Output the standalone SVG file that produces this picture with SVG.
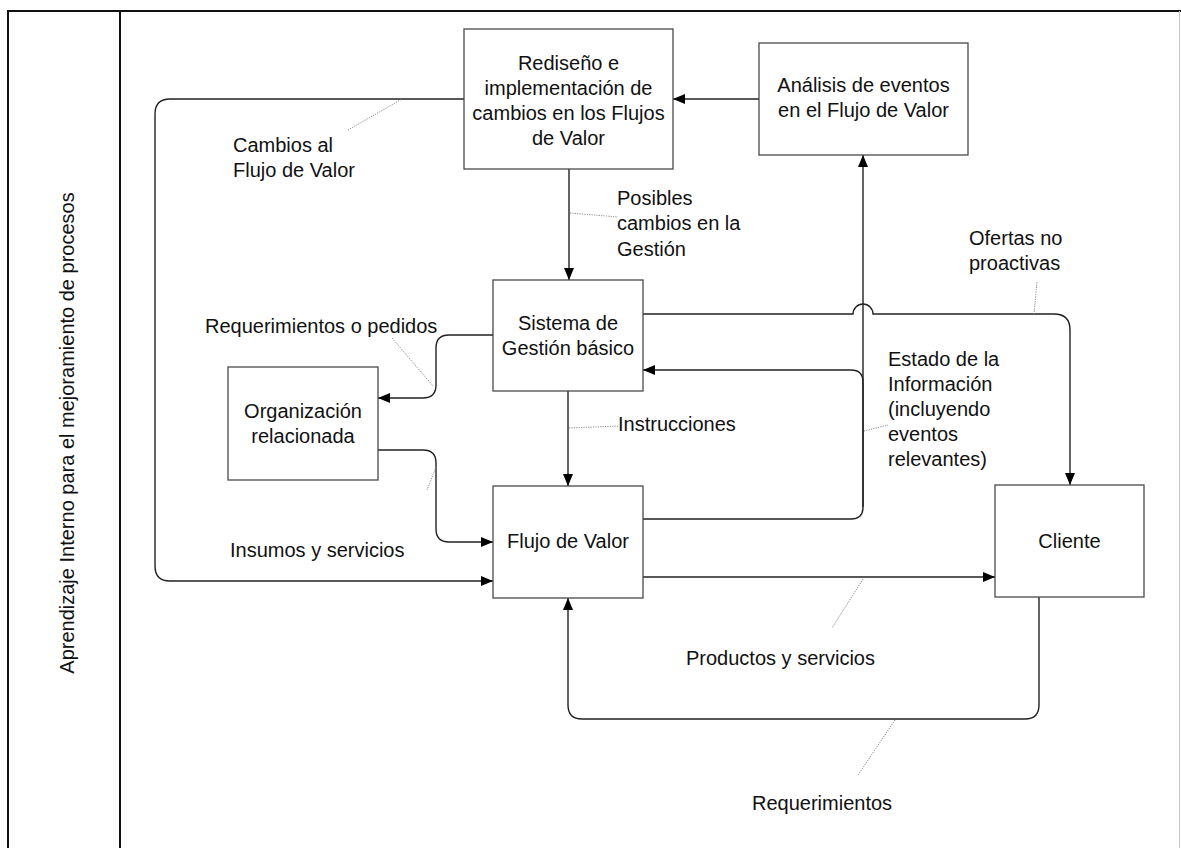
<svg xmlns="http://www.w3.org/2000/svg" width="1181" height="848" viewBox="0 0 1181 848">
  <style>
    .frame { stroke: #111; stroke-width: 2; fill: none; }
    .box { fill: #fff; stroke: #4a4a4a; stroke-width: 1.3; }
    .conn { fill: none; stroke: #222; stroke-width: 1.4; }
    .lead { fill: none; stroke: #8a8a8a; stroke-width: 1; stroke-dasharray: 1.2 1.2; }
    text { font-family: "Liberation Sans", Arial, sans-serif; font-size: 20px; fill: #111; }
    .c { text-anchor: middle; }
  </style>
  <defs>
    <marker id="arrow" markerUnits="userSpaceOnUse" markerWidth="13" markerHeight="11" refX="12" refY="5" orient="auto">
      <path d="M0,0 L12,5 L0,10 z" fill="#000"/>
    </marker>
  </defs>

  <rect x="0" y="0" width="1181" height="848" fill="#fff"/>

  <!-- page frame and side lane -->
  <g id="frame">
    <path class="frame" d="M8,848 V11 H1181"/>
    <path class="frame" d="M120,11 V848"/>
    <path d="M1179.5,11 V848" stroke="#c8c8c8" stroke-width="1" fill="none"/>
    <text class="c" transform="translate(74,433) rotate(-90)">Aprendizaje Interno para el mejoramiento de procesos</text>
  </g>

  <!-- connectors -->
  <g id="connectors">
    <path class="conn" d="M759,99 H673" marker-end="url(#arrow)"/>
    <path class="conn" d="M464,99 H170 Q155,99 155,114 V566 Q155,581 170,581 H493" marker-end="url(#arrow)"/>
    <path class="conn" d="M569,169 V280" marker-end="url(#arrow)"/>
    <path class="conn" d="M493,335 H449 Q436,335 436,348 V385 Q436,398 423,398 H378" marker-end="url(#arrow)"/>
    <path class="conn" d="M378,450 H423 Q436,450 436,463 V529 Q436,542 449,542 H493" marker-end="url(#arrow)"/>
    <path class="conn" d="M568,391 V486" marker-end="url(#arrow)"/>
    <path class="conn" d="M643,519 H851 Q863,519 863,507 V155" marker-end="url(#arrow)"/>
    <path class="conn" d="M863,507 V382 Q863,370 851,370 H643" marker-end="url(#arrow)"/>
    <path class="conn" d="M643,314 H853 A10,10 0 0 1 873,314 H1054 Q1070,314 1070,330 V485" marker-end="url(#arrow)"/>
    <path class="conn" d="M643,577 H995" marker-end="url(#arrow)"/>
    <path class="conn" d="M1039,597 V705 Q1039,719 1025,719 H582 Q568,719 568,705 V598" marker-end="url(#arrow)"/>

    <!-- label leaders -->
    <path class="lead" d="M348,130 L402,99"/>
    <path class="lead" d="M570,213 L618,217"/>
    <path class="lead" d="M1037,282 L1034,314"/>
    <path class="lead" d="M392,338 L433,386"/>
    <path class="lead" d="M436,467 L427,490"/>
    <path class="lead" d="M569,428 L618,426"/>
    <path class="lead" d="M864,431 L888,425"/>
    <path class="lead" d="M863,579 L832,628"/>
    <path class="lead" d="M895,720 L858,775"/>
  </g>

  <!-- connector labels -->
  <g id="labels">
    <text x="233" y="152">Cambios al</text>
    <text x="233" y="177">Flujo de Valor</text>
    <text x="617" y="205">Posibles</text>
    <text x="617" y="230">cambios en la</text>
    <text x="617" y="256">Gestión</text>
    <text x="969" y="245">Ofertas no</text>
    <text x="969" y="270">proactivas</text>
    <text x="205" y="333">Requerimientos o pedidos</text>
    <text x="618" y="431">Instrucciones</text>
    <text x="888" y="366">Estado de la</text>
    <text x="888" y="391">Información</text>
    <text x="888" y="416">(incluyendo</text>
    <text x="888" y="441">eventos</text>
    <text x="888" y="466">relevantes)</text>
    <text x="230" y="557">Insumos y servicios</text>
    <text x="686" y="665">Productos y servicios</text>
    <text x="752" y="810">Requerimientos</text>
  </g>

  <g id="node-rediseno">
    <rect class="box" x="464" y="29" width="209" height="140"/>
    <text class="c" x="568.5" y="70">Rediseño e</text>
    <text class="c" x="568.5" y="95">implementación de</text>
    <text class="c" x="568.5" y="120">cambios en los Flujos</text>
    <text class="c" x="568.5" y="145">de Valor</text>
  </g>

  <g id="node-analisis">
    <rect class="box" x="759" y="43" width="209" height="112"/>
    <text class="c" x="863.5" y="92">Análisis de eventos</text>
    <text class="c" x="863.5" y="117">en el Flujo de Valor</text>
  </g>

  <g id="node-sistema">
    <rect class="box" x="493" y="280" width="150" height="111"/>
    <text class="c" x="568" y="330">Sistema de</text>
    <text class="c" x="568" y="355">Gestión básico</text>
  </g>

  <g id="node-organizacion">
    <rect class="box" x="228" y="367" width="150" height="113"/>
    <text class="c" x="303" y="418">Organización</text>
    <text class="c" x="303" y="443">relacionada</text>
  </g>

  <g id="node-flujo">
    <rect class="box" x="493" y="486" width="150" height="112"/>
    <text class="c" x="568" y="548">Flujo de Valor</text>
  </g>

  <g id="node-cliente">
    <rect class="box" x="995" y="485" width="149" height="112"/>
    <text class="c" x="1069.5" y="548">Cliente</text>
  </g>
</svg>
